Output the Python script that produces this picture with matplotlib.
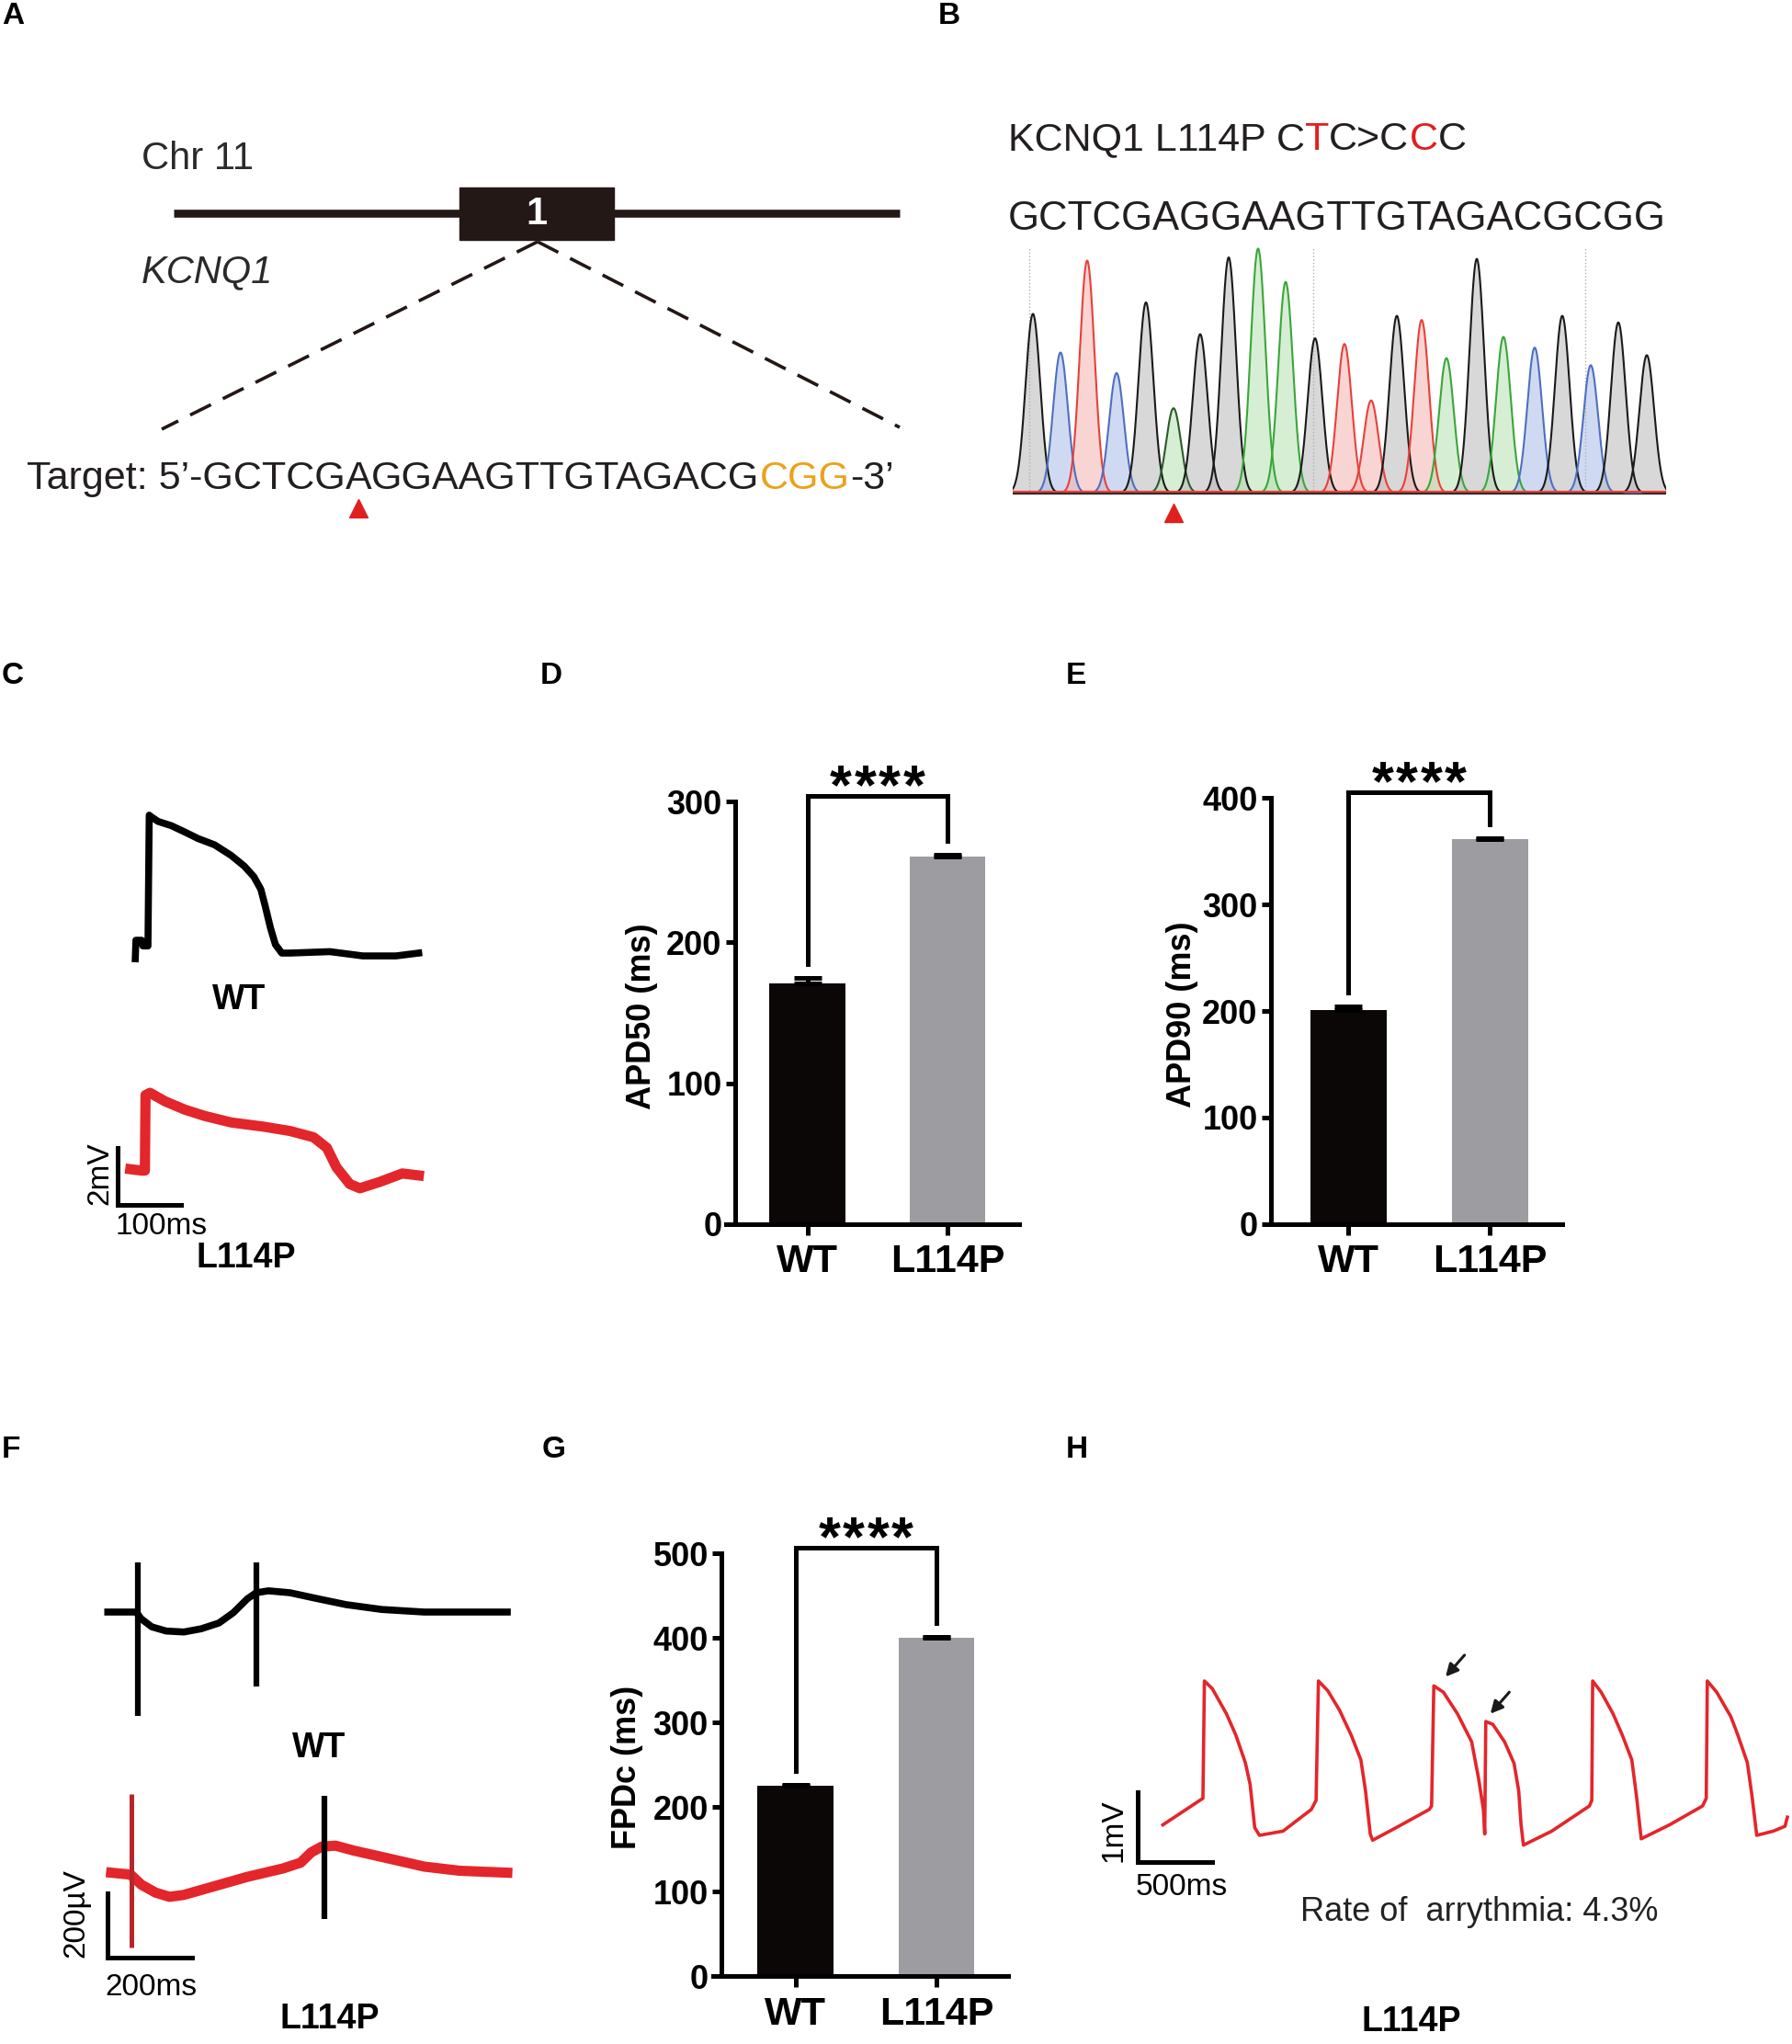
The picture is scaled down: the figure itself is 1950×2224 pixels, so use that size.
import numpy as np
import matplotlib
matplotlib.use("Agg")
import matplotlib.pyplot as plt
from matplotlib.patches import Rectangle

W, H = 1950, 2224
plt.rcParams['font.family'] = ['Liberation Sans', 'DejaVu Sans']

# ---------------- data ----------------
# A: sgRNA target, split where the colour changes
target_parts = ["Target: 5\u2019-GCTCG", "A", "GGAAGTTGTAGACG", "CGG", "-3\u2019"]
# B: Sanger read
title_parts = ["KCNQ1 L114P C", "T", "C>C", "C", "C"]
read_seq = "GCTCGAGGAAGTTGTAGACGCGG"
peak_pos = [22, 52, 81, 113, 145, 175, 204, 235, 267, 297, 329, 361, 390,
            418, 445, 472, 505, 534, 568, 598, 629, 659, 690]          # scan points
peak_h = [0.733, 0.575, 0.951, 0.491, 0.780, 0.347, 0.650, 0.964, 1.0, 0.864,
          0.633, 0.610, 0.379, 0.725, 0.708, 0.552, 0.958, 0.639, 0.595, 0.725,
          0.523, 0.698, 0.564]                                          # relative signal
mut_idx = 5

# C: action potentials (ms, mV)
wt_ap_t = [0, 1, 10, 12, 20, 22, 26, 36, 57, 78, 99, 125, 151, 172, 187, 198,
           205, 213, 221, 231, 244, 307, 359, 411, 447]
wt_ap_v = [-0.2, 0.45, 0.45, 0.25, 0.25, 4.84, 4.77, 4.62, 4.47, 4.25, 4.02, 3.80,
           3.43, 3.05, 2.68, 2.24, 1.64, 0.90, 0.30, 0.0, 0.0, 0.05, -0.1, -0.1, 0.0]
mut_ap_t = [0, 18, 23, 24, 31, 55, 86, 117, 159, 211, 252, 289, 310, 325, 346,
            362, 393, 429, 455]
mut_ap_v = [0.15, 0.1, 0.1, 2.75, 2.83, 2.53, 2.24, 2.02, 1.79, 1.64, 1.49, 1.27,
            0.90, 0.22, -0.37, -0.52, -0.30, 0.0, -0.07]

# D, E, G: bar values (mean, SEM)
groups = ['WT', 'L114P']
apd50 = [171, 261]
apd50_err = [4, 1.5]
apd90 = [201, 361]
apd90_err = [3.5, 1]
fpdc = [225, 400]
fpdc_err = [1, 1]
signif = '****'

# F: field potentials (ms, uV)
wt_fp_t = [0, 67, 79, 104, 138, 180, 221, 263, 297, 330, 351, 380, 431, 498,
           564, 648, 748, 832, 945]
wt_fp_v = [0, 0, -21, -46, -59, -62, -52, -34, -2, 41, 60, 66, 60, 41, 23, 8, 0, 0, 0]
wt_spike_t = [71, 351]
wt_spike_lo = [-322, -230]
wt_spike_hi = [154, 154]
mut_fp_t = [8, 54, 79, 113, 146, 180, 247, 330, 414, 456, 481, 506, 539, 581,
            665, 748, 832, 945]
mut_fp_v = [0, -6, -37, -62, -75, -69, -44, -13, 13, 31, 63, 81, 84, 69, 44, 19, 6, 0]
mut_spike_t = [56, 512]
mut_spike_lo = [-232, -144]
mut_spike_hi = [245, 239]

# H: spontaneous APs in L114P (ms, mV)
h_t = [0, 269, 279, 332, 427, 491, 554, 586, 617, 649,
       807, 997, 1029, 1045, 1108, 1187, 1266, 1330, 1361, 1393, 1409,
       1567, 1789, 1805, 1820, 1884, 1979, 2074, 2121, 2153, 2162, 2169, 2216,
       2295, 2359, 2390, 2406, 2422,
       2612, 2865, 2881, 2887, 2944, 3024, 3087, 3150, 3182, 3213,
       3403, 3625, 3650, 3657, 3720, 3815, 3863, 3926, 3958, 3989,
       4100, 4179, 4195]
h_v = [0.19, 0.57, 2.25, 2.14, 1.78, 1.47, 1.08, 0.77, 0.15, 0.04,
       0.10, 0.41, 0.54, 2.25, 2.11, 1.83, 1.47, 1.12, 0.68, 0.06, -0.03,
       0.15, 0.41, 0.46, 2.18, 2.09, 1.78, 1.38, 0.85, 0.41, 0.06, 1.67, 1.63,
       1.38, 1.07, 0.68, 0.19, -0.10,
       0.10, 0.46, 0.54, 2.25, 2.09, 1.78, 1.47, 1.12, 0.59, -0.01,
       0.19, 0.46, 0.57, 2.25, 2.09, 1.74, 1.47, 1.08, 0.59, 0.04,
       0.10, 0.17, 0.30]
arrow_tip_t = [1899, 2200]
arrow_tip_v = [2.31, 1.78]
arrhythmia_rate = 4.3

# ---------------- figure ----------------
RED = '#e3262b'
INK = '#231f20'
fig = plt.figure(figsize=(W / 100, H / 100), dpi=100)
bg = fig.add_axes([0, 0, 1, 1])
bg.set_xlim(0, W)
bg.set_ylim(H, 0)
bg.axis('off')
renderer = fig.canvas.get_renderer()


def run_text(x, y, parts, colors, size, **kw):
    spans = []
    for s, c in zip(parts, colors):
        t = bg.text(x, y, s, color=c, fontsize=size, ha='left', va='center', **kw)
        w = t.get_window_extent(renderer=renderer).width
        spans.append((x, x + w))
        x += w
    return spans


def trace_axes(ox, oy, sx, sy, xlim, ylim):
    # ox, oy: pixel of data origin; sx, sy: pixels per data unit
    x0 = ox + xlim[0] * sx
    x1 = ox + xlim[1] * sx
    ytop = oy - ylim[1] * sy
    ybot = oy - ylim[0] * sy
    ax = fig.add_axes([x0 / W, 1 - ybot / H, (x1 - x0) / W, (ybot - ytop) / H])
    ax.set_xlim(xlim)
    ax.set_ylim(ylim)
    ax.axis('off')
    return ax


def scale_bar(ax, x0, y0, dx, dy, xlab, ylab, ylab_off, xlab_off):
    ax.plot([x0, x0, x0 + dx], [y0 + dy, y0, y0], color='black', lw=3.6,
            solid_joinstyle='miter', clip_on=False)
    ax.annotate(ylab, xy=(x0, y0), xytext=(ylab_off, 0), textcoords='offset points',
                rotation=90, rotation_mode='anchor', ha='left', va='center', fontsize=24,
                annotation_clip=False)
    ax.annotate(xlab, xy=(x0, y0), xytext=(-2, xlab_off), textcoords='offset points',
                ha='left', va='center', fontsize=24, annotation_clip=False)


def panel_letter(x, y, s, narrow=False):
    fam = ['Liberation Sans Narrow', 'Liberation Sans'] if narrow else ['Liberation Sans']
    bg.text(x, y, s, fontsize=24, fontweight='bold', family=fam, ha='left', va='center')


for lx, ly, s, nar in [(2, 17, 'A', True), (1021, 17, 'B', True), (2, 735, 'C', False),
                       (588, 735, 'D', False), (1160, 735, 'E', False),
                       (2, 1577, 'F', False), (590, 1577, 'G', False),
                       (1160, 1577, 'H', False)]:
    panel_letter(lx, ly, s, nar)

# ---- A: gene schematic ----
bg.plot([189, 979], [232, 232], color='#231815', lw=6.2, solid_capstyle='butt')
bg.add_patch(Rectangle((500, 204), 168, 57, color='#231815'))
bg.text(584, 233, '1', color='white', fontsize=30, fontweight='bold', ha='center', va='center')
bg.text(154, 173, 'Chr 11', fontsize=30, color='#2a2a2a', ha='left', va='center')
bg.text(154, 296, 'KCNQ1', fontsize=30, style='italic', color='#2a2a2a', ha='left', va='center')
bg.plot([585, 176], [263, 467], color='#231815', lw=2.6, dashes=(7, 4))
bg.plot([585, 979], [263, 465], color='#231815', lw=2.6, dashes=(7, 4))
spans = run_text(29, 521, target_parts, [INK, INK, INK, '#eba21b', INK], 31)
bg.plot((spans[1][0] + spans[1][1]) / 2, 553, marker='^', ms=14, color='#e01f1f')

# ---- B: chromatogram ----
run_text(1097, 152, title_parts, [INK, '#e01f1f', INK, '#e01f1f', INK], 31)
run_text(1097, 238, [read_seq], [INK], 31.5)
axb = trace_axes(1102, 536.5, 1.0, 266, (0, 711), (-0.1, 1.02))
base_line = {'G': '#1a1a1a', 'C': '#4f6fbf', 'T': '#e8403a', 'A': '#3aa63a'}
base_fill = {'G': '#b8b8b8', 'C': '#a9bde8', 'T': '#f4b3b0', 'A': '#b5e0b0'}
xs = np.linspace(0, 711, 2000)
axb.vlines([18, 327, 623], 0, 1.0, colors='#b0b0b0', linestyles=':', lw=1)
for i, (p, h, b) in enumerate(zip(peak_pos, peak_h, read_seq)):
    y = h * np.exp(-0.5 * ((xs - p) / 8.0) ** 2)
    lc = '#2c5a2c' if i == mut_idx else base_line[b]
    axb.fill_between(xs, 0, y, color=base_fill[b], alpha=0.55, lw=0)
    axb.plot(xs, y, color=lc, lw=1.5)
axb.plot([0, 711], [0.006, 0.006], color='#e8403a', lw=1.6)
axb.plot([0, 711], [0.0, 0.0], color='#333333', lw=1.0)
axb.plot(peak_pos[mut_idx], -0.08, marker='^', ms=14, color='#e01f1f', clip_on=False)

# ---- C: action potentials ----
axc1 = trace_axes(147.2, 1037, 0.69, 31, (-70, 470), (-1, 5.5))
axc1.plot(wt_ap_t, wt_ap_v, color='black', lw=5.5, solid_joinstyle='round')
axc2 = trace_axes(141.8, 1276.8, 0.69, 31, (-70, 470), (-1.7, 3.3))
axc2.plot(mut_ap_t, mut_ap_v, color=RED, lw=8, solid_joinstyle='round')
scale_bar(axc2, -20, -1.1, 100, 2, '100ms', '2mV', -14, -17)
bg.text(260, 1088, 'WT', fontsize=27, fontweight='bold', ha='center', va='center')
bg.text(268, 1369, 'L114P', fontsize=27, fontweight='bold', ha='center', va='center')


# ---- D, E, G: bar charts ----
def bar_panel(box, vals, errs, ymax, ylabel, spine_x, xlim, lab_px):
    left, top, right, bottom = box
    ax = fig.add_axes([left / W, 1 - bottom / H, (right - left) / W, (bottom - top) / H])
    x = np.arange(len(groups))
    ax.bar(x, vals, width=0.54, color=['#0b0707', '#9d9da1'], zorder=2)
    ax.errorbar(x, vals, yerr=[np.zeros(len(errs)), errs], fmt='none', ecolor='black',
                elinewidth=3.6, capsize=11, capthick=3.6, zorder=3)
    ax.set_xlim(xlim)
    ax.set_ylim(0, ymax)
    for s in ['top', 'right']:
        ax.spines[s].set_visible(False)
    ax.spines['left'].set_position(('data', spine_x))
    ax.spines['left'].set_bounds(0, ymax)
    for s in ['left', 'bottom']:
        ax.spines[s].set_linewidth(3.6)
    ax.tick_params(axis='y', length=7.2, width=3.6, pad=3)
    ax.tick_params(axis='x', length=8.6, width=3.6, pad=7)
    ticks = np.arange(0, ymax + 1, 100)
    ax.set_yticks(ticks)
    ax.set_yticklabels([str(t) for t in ticks], fontsize=26, fontweight='bold')
    ax.set_xticks(x)
    ax.set_xticklabels(groups, fontsize=31, fontweight='bold')
    ax.set_ylabel(ylabel, fontsize=26, fontweight='bold')
    ax.yaxis.set_label_coords((lab_px[0] - left) / (right - left),
                              (bottom - lab_px[1]) / (bottom - top))
    ax.yaxis.label.set_va('center')
    per_px = ymax / (bottom - top)
    ytop = ymax + 6 * per_px
    legs = [v + e + 15 * per_px for v, e in zip(vals, errs)]
    ax.plot([0, 0, 1, 1], [legs[0], ytop, ytop, legs[1]], color='black', lw=3.6,
            clip_on=False, solid_joinstyle='miter')
    # significance stars, spaced out like the original
    n = len(signif)
    for k, ch in enumerate(signif):
        ax.annotate(ch, xy=(0.5, ytop), xytext=((k - (n - 1) / 2) * 19, -6),
                    textcoords='offset points', ha='center', va='baseline',
                    fontsize=44, fontweight='bold', annotation_clip=False)
    return ax


bar_panel((789.7, 872.3, 1109.2, 1331.8), apd50, apd50_err, 300, 'APD50 (ms)',
          -0.517, (-0.583, 1.513), (698, 1106))
bar_panel((1377, 868.2, 1700, 1331.8), apd90, apd90_err, 400, 'APD90 (ms)',
          -0.55, (-0.587, 1.512), (1286.5, 1104))
bar_panel((775.9, 1690, 1097.1, 2150), fpdc, fpdc_err, 500, 'FPDc (ms)',
          -0.526, (-0.585, 1.509), (682.6, 1923))

# ---- F: field potentials ----
axf1 = trace_axes(117.3, 1754, 0.46, 0.35, (-30, 960), (-350, 180))
axf1.plot(wt_fp_t, wt_fp_v, color='black', lw=5.5, solid_joinstyle='round')
axf1.vlines(wt_spike_t, wt_spike_lo, wt_spike_hi, colors='black', lw=4.5)
axf2 = trace_axes(117.3, 2037.6, 0.46, 0.35, (-30, 960), (-300, 270))
axf2.plot(mut_fp_t, mut_fp_v, color=RED, lw=8, solid_joinstyle='round')
axf2.vlines(mut_spike_t[:1], mut_spike_lo[:1], mut_spike_hi[:1], colors='#b8262a', lw=3.6)
axf2.vlines(mut_spike_t[1:], mut_spike_lo[1:], mut_spike_hi[1:], colors='black', lw=4.5)
scale_bar(axf2, 0, -263, 200, 200, '200ms', '200\u00b5V', -25, -24)
bg.text(347, 1902, 'WT', fontsize=27, fontweight='bold', ha='center', va='center')
bg.text(359, 2197, 'L114P', fontsize=27, fontweight='bold', ha='center', va='center')

# ---- H: arrhythmia trace ----
axh = trace_axes(1265.4, 2000, 0.162, 76, (-200, 4300), (-0.5, 2.8))
axh.plot(h_t, h_v, color=RED, lw=2.6)
for tt, vv in zip(arrow_tip_t, arrow_tip_v):
    axh.annotate('', xy=(tt, vv), xytext=(tt + 127, vv + 0.31),
                 arrowprops=dict(arrowstyle='-|>', color='#1a1a1a', lw=2.2,
                                 mutation_scale=20, shrinkA=0, shrinkB=0))
scale_bar(axh, -169, -0.34, 500, 1, '500ms', '1mV', -19, -20)
bg.text(1610, 2080, 'Rate of  arrythmia: %.1f%%' % arrhythmia_rate, fontsize=26,
        color='#222222', ha='center', va='center')
bg.text(1536, 2200, 'L114P', fontsize=27, fontweight='bold', ha='center', va='center')

fig.savefig('out.png', dpi=100)
